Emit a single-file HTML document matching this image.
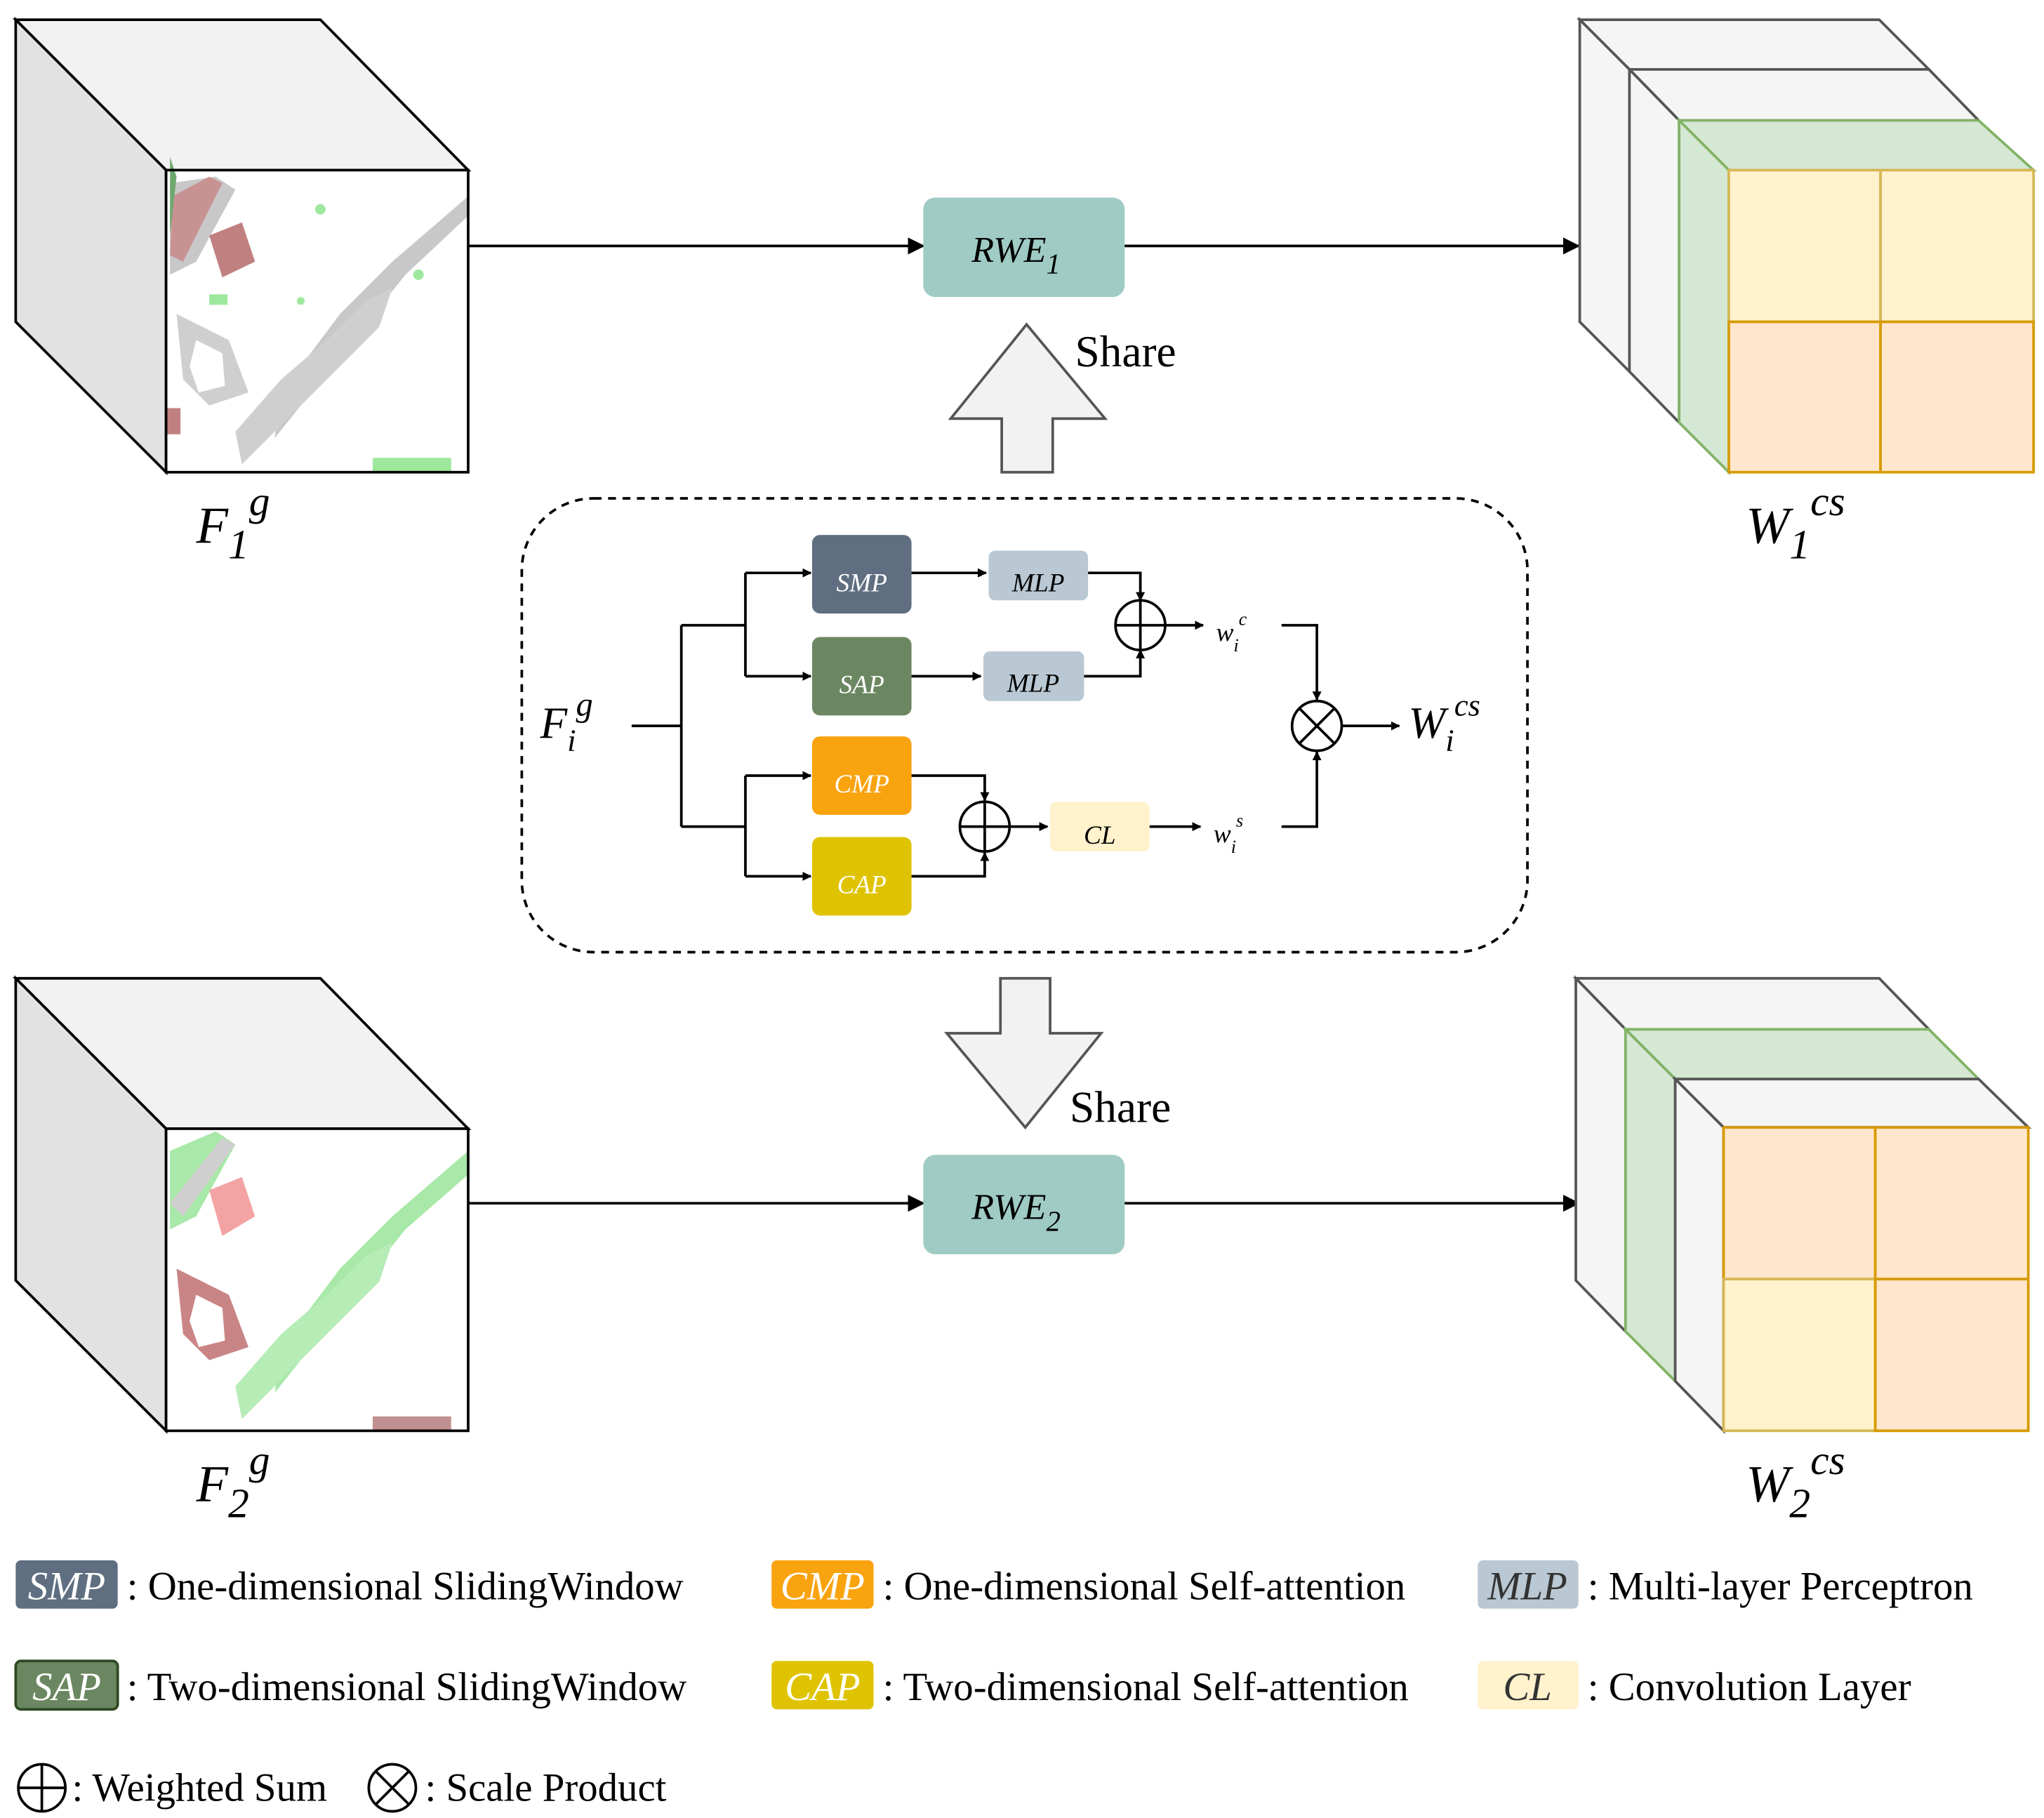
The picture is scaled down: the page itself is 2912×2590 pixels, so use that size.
<!DOCTYPE html>
<html><head><meta charset="utf-8"><style>
html,body{margin:0;padding:0;background:#fff}
svg{display:block}
text{font-family:"Liberation Serif",serif}
</style></head><body>
<svg width="2912" height="2590" viewBox="0 0 1563 1390" xmlns="http://www.w3.org/2000/svg">
<defs>
<marker id="ar" viewBox="0 0 10 10" refX="9" refY="5" markerWidth="7" markerHeight="7" orient="auto-start-reverse" markerUnits="userSpaceOnUse"><path d="M0,0 L10,5 L0,10 z" fill="#000"/></marker>
<marker id="ab" viewBox="0 0 10 10" refX="9" refY="5" markerWidth="13" markerHeight="13" orient="auto" markerUnits="userSpaceOnUse"><path d="M0,0 L10,5 L0,10 z" fill="#000"/></marker>
</defs>
<rect width="1563" height="1390" fill="#fff"/>

<!-- Cube 1 -->
<polygon points="12,15 245,15 358,130 127,130" fill="#f2f2f2" stroke="#000" stroke-width="2"/>
<polygon points="12,15 127,130 127,361 12,246" fill="#e2e2e2" stroke="#000" stroke-width="2"/>
<rect x="127" y="130" width="231" height="231" fill="#fff"/>
<g>
<polygon points="130,140 165,135 180,145 150,200 130,210" fill="#c8c8c8"/>
<polygon points="132,150 160,135 170,140 140,200 130,195" fill="#c98585" opacity="0.8"/>
<polygon points="160,180 185,170 195,200 170,212" fill="#c08080"/>
<polygon points="215,300 260,240 300,200 358,150 358,165 310,210 270,260 230,310 210,335" fill="#c8c8c8"/>
<polygon points="180,330 215,290 250,260 280,230 300,220 290,250 250,290 210,330 185,355" fill="#cfcfcf"/>
<polygon points="135,240 175,260 190,300 160,310 140,290" fill="#cfcfcf"/>
<polygon points="150,260 170,270 172,295 152,300 145,280" fill="#fff"/>
<rect x="285" y="350" width="60" height="11" fill="#9de89d"/>
<polygon points="130,120 135,135 130,180" fill="#6fa86f"/>
<rect x="128" y="312" width="10" height="20" fill="#c08080"/>
<circle cx="245" cy="160" r="4" fill="#9de89d"/><circle cx="320" cy="210" r="4" fill="#9de89d"/><circle cx="230" cy="230" r="3" fill="#9de89d"/>
<rect x="160" y="225" width="14" height="8" fill="#9de89d"/>
</g>
<rect x="127" y="130" width="231" height="231" fill="none" stroke="#000" stroke-width="2"/>
<text x="150" y="415" font-size="40" font-style="italic">F<tspan font-size="32" dy="12">1</tspan><tspan font-size="32" dy="-33">g</tspan></text>

<!-- Cube 2 -->
<polygon points="12,748 245,748 358,863 127,863" fill="#f2f2f2" stroke="#000" stroke-width="2"/>
<polygon points="12,748 127,863 127,1094 12,979" fill="#e2e2e2" stroke="#000" stroke-width="2"/>
<rect x="127" y="863" width="231" height="231" fill="#fff"/>
<g>
<polygon points="130,880 165,865 180,875 150,930 130,940" fill="#a8e8a8"/>
<polygon points="160,910 185,900 195,930 170,945" fill="#f3a3a3"/>
<polygon points="215,1030 260,970 300,930 358,880 358,898 310,940 270,990 230,1040 210,1065" fill="#a8e8a8"/>
<polygon points="180,1060 215,1020 250,990 280,960 300,950 290,980 250,1020 210,1060 185,1085" fill="#b6ecb6"/>
<polygon points="135,970 175,990 190,1030 160,1040 140,1020" fill="#c98585"/>
<polygon points="150,990 170,1000 172,1025 152,1030 145,1010" fill="#fff"/>
<rect x="285" y="1083" width="60" height="11" fill="#c09090"/>
<polygon points="130,920 170,870 180,875 140,930" fill="#cfcfcf"/>
</g>
<rect x="127" y="863" width="231" height="231" fill="none" stroke="#000" stroke-width="2"/>
<text x="150" y="1148" font-size="40" font-style="italic">F<tspan font-size="32" dy="12">2</tspan><tspan font-size="32" dy="-33">g</tspan></text>

<!-- Top flow -->
<line x1="358" y1="188" x2="706" y2="188" stroke="#000" stroke-width="2" marker-end="url(#ab)"/>
<rect x="706" y="151" width="154" height="76" rx="9" fill="#9fcbc4"/>
<text x="743" y="200" font-size="28" font-style="italic">RWE<tspan font-size="22" dy="9">1</tspan></text>
<line x1="860" y1="188" x2="1207" y2="188" stroke="#000" stroke-width="2" marker-end="url(#ab)"/>
<polygon points="785,248 845,320 805,320 805,361 766,361 766,320 727,320" fill="#f2f2f2" stroke="#555" stroke-width="2"/>
<text x="822" y="280" font-size="34">Share</text>

<!-- W1 cube -->
<polygon points="1208,15 1437,15 1475,53 1246,53" fill="#f5f5f5" stroke="#555" stroke-width="2"/>
<polygon points="1208,15 1246,53 1246,284 1208,246" fill="#f5f5f5" stroke="#555" stroke-width="2"/>
<polygon points="1246,53 1475,53 1513,92 1284,92" fill="#f5f5f5" stroke="#555" stroke-width="2"/>
<polygon points="1246,53 1284,92 1284,323 1246,284" fill="#f5f5f5" stroke="#555" stroke-width="2"/>
<polygon points="1284,92 1513,92 1555,130 1322,130" fill="#d5e8d4" stroke="#82b366" stroke-width="2"/>
<polygon points="1284,92 1322,130 1322,361 1284,323" fill="#d5e8d4" stroke="#82b366" stroke-width="2"/>
<rect x="1322" y="130" width="116" height="116" fill="#fff2cc" stroke="#d6b656" stroke-width="2"/>
<rect x="1438" y="130" width="117" height="116" fill="#fff2cc" stroke="#d6b656" stroke-width="2"/>
<rect x="1322" y="246" width="116" height="115" fill="#ffe6cc" stroke="#d79b00" stroke-width="2"/>
<rect x="1438" y="246" width="117" height="115" fill="#ffe6cc" stroke="#d79b00" stroke-width="2"/>
<text x="1335" y="415" font-size="40" font-style="italic">W<tspan font-size="32" dy="12">1</tspan><tspan font-size="32" dy="-33">cs</tspan></text>

<!-- Dashed box -->
<rect x="399" y="381" width="769" height="347" rx="55" fill="none" stroke="#000" stroke-width="2" stroke-dasharray="6,5"/>

<!-- Down arrow -->
<polygon points="765,748 803,748 803,790 842,790 784,862 724,790 765,790" fill="#f2f2f2" stroke="#555" stroke-width="2"/>
<text x="818" y="858" font-size="34">Share</text>

<!-- Bottom flow -->
<line x1="358" y1="920" x2="706" y2="920" stroke="#000" stroke-width="2" marker-end="url(#ab)"/>
<rect x="706" y="883" width="154" height="76" rx="9" fill="#9fcbc4"/>
<text x="743" y="932" font-size="28" font-style="italic">RWE<tspan font-size="22" dy="9">2</tspan></text>
<line x1="860" y1="920" x2="1207" y2="920" stroke="#000" stroke-width="2" marker-end="url(#ab)"/>

<!-- W2 cube -->
<polygon points="1205,748 1437,748 1475,787 1243,787" fill="#f5f5f5" stroke="#555" stroke-width="2"/>
<polygon points="1205,748 1243,787 1243,1018 1205,979" fill="#f5f5f5" stroke="#555" stroke-width="2"/>
<polygon points="1243,787 1475,787 1513,825 1281,825" fill="#d5e8d4" stroke="#82b366" stroke-width="2"/>
<polygon points="1243,787 1281,825 1281,1056 1243,1018" fill="#d5e8d4" stroke="#82b366" stroke-width="2"/>
<polygon points="1281,825 1513,825 1551,862 1318,862" fill="#f5f5f5" stroke="#555" stroke-width="2"/>
<polygon points="1281,825 1318,862 1318,1094 1281,1056" fill="#f5f5f5" stroke="#555" stroke-width="2"/>
<rect x="1318" y="862" width="116" height="116" fill="#ffe6cc" stroke="#d79b00" stroke-width="2"/>
<rect x="1434" y="862" width="117" height="116" fill="#ffe6cc" stroke="#d79b00" stroke-width="2"/>
<rect x="1318" y="978" width="116" height="116" fill="#fff2cc" stroke="#d6b656" stroke-width="2"/>
<rect x="1434" y="978" width="117" height="116" fill="#ffe6cc" stroke="#d79b00" stroke-width="2"/>
<text x="1335" y="1148" font-size="40" font-style="italic">W<tspan font-size="32" dy="12">2</tspan><tspan font-size="32" dy="-33">cs</tspan></text>

<!-- Inner module -->
<g stroke="#000" stroke-width="2" fill="none">
<text x="413" y="564" font-size="34" font-style="italic" fill="#000" stroke="none">F<tspan font-size="24" dy="10">i</tspan><tspan font-size="26" dy="-27">g</tspan></text>
<path d="M483,555 H521 M521,478 V632 M521,478 H570 M570,438 V517 M521,632 H570 M570,593 V670"/>
<line x1="570" y1="438" x2="620" y2="438" marker-end="url(#ar)"/>
<line x1="570" y1="517" x2="620" y2="517" marker-end="url(#ar)"/>
<line x1="570" y1="593" x2="620" y2="593" marker-end="url(#ar)"/>
<line x1="570" y1="670" x2="620" y2="670" marker-end="url(#ar)"/>
<line x1="697" y1="438" x2="754" y2="438" marker-end="url(#ar)"/>
<line x1="697" y1="517" x2="750" y2="517" marker-end="url(#ar)"/>
<path d="M832,438 H872 V459" marker-end="url(#ar)"/>
<path d="M829,517 H872 V497" marker-end="url(#ar)"/>
<circle cx="872" cy="478" r="19"/><path d="M853,478 H891 M872,459 V497"/>
<line x1="891" y1="478" x2="920" y2="478" marker-end="url(#ar)"/>
<path d="M980,478 H1007 V535" marker-end="url(#ar)"/>
<circle cx="1007" cy="555" r="19"/><path d="M994,542 L1020,568 M1020,542 L994,568"/>
<line x1="1026" y1="555" x2="1070" y2="555" marker-end="url(#ar)"/>
<path d="M697,593 H753 V612" marker-end="url(#ar)"/>
<path d="M697,670 H753 V652" marker-end="url(#ar)"/>
<circle cx="753" cy="632" r="19"/><path d="M734,632 H772 M753,613 V651"/>
<line x1="772" y1="632" x2="801" y2="632" marker-end="url(#ar)"/>
<line x1="879" y1="632" x2="918" y2="632" marker-end="url(#ar)"/>
<path d="M980,632 H1007 V575" marker-end="url(#ar)"/>
</g>
<rect x="621" y="409" width="76" height="60" rx="6" fill="#5f6e80"/>
<text x="659" y="452" font-size="20" font-style="italic" fill="#fff" text-anchor="middle">SMP</text>
<rect x="621" y="487" width="76" height="60" rx="6" fill="#6b8761"/>
<text x="659" y="530" font-size="20" font-style="italic" fill="#fff" text-anchor="middle">SAP</text>
<rect x="621" y="563" width="76" height="60" rx="6" fill="#f9a30f"/>
<text x="659" y="606" font-size="20" font-style="italic" fill="#fff" text-anchor="middle">CMP</text>
<rect x="621" y="640" width="76" height="60" rx="6" fill="#dfc300"/>
<text x="659" y="683" font-size="20" font-style="italic" fill="#fff" text-anchor="middle">CAP</text>
<rect x="756" y="421" width="76" height="38" rx="5" fill="#b9c8d3"/>
<text x="794" y="452" font-size="20" font-style="italic" text-anchor="middle">MLP</text>
<rect x="752" y="498" width="77" height="38" rx="5" fill="#b9c8d3"/>
<text x="790" y="529" font-size="20" font-style="italic" text-anchor="middle">MLP</text>
<rect x="803" y="613" width="76" height="38" rx="5" fill="#fff2cc"/>
<text x="841" y="645" font-size="20" font-style="italic" text-anchor="middle">CL</text>
<text x="930" y="490" font-size="20" font-style="italic">w<tspan font-size="14" dy="8">i</tspan><tspan font-size="14" dy="-20">c</tspan></text>
<text x="928" y="644" font-size="20" font-style="italic">w<tspan font-size="14" dy="8">i</tspan><tspan font-size="14" dy="-20">s</tspan></text>
<text x="1077" y="564" font-size="34" font-style="italic">W<tspan font-size="24" dy="10">i</tspan><tspan font-size="24" dy="-27">cs</tspan></text>

<!-- Legend -->
<g font-size="30.5">
<rect x="12" y="1193" width="78" height="37" rx="4" fill="#5f6e80"/>
<text x="51" y="1223" fill="#fff" font-style="italic" text-anchor="middle">SMP</text>
<text x="97" y="1223">: One-dimensional SlidingWindow</text>
<rect x="12" y="1270" width="78" height="37" rx="4" fill="#6b8761" stroke="#2e4a22" stroke-width="2"/>
<text x="51" y="1300" fill="#fff" font-style="italic" text-anchor="middle">SAP</text>
<text x="97" y="1300">: Two-dimensional SlidingWindow</text>
<rect x="590" y="1193" width="78" height="37" rx="4" fill="#f9a30f"/>
<text x="629" y="1223" fill="#fff" font-style="italic" text-anchor="middle">CMP</text>
<text x="675" y="1223">: One-dimensional Self-attention</text>
<rect x="590" y="1270" width="78" height="37" rx="4" fill="#dfc300"/>
<text x="629" y="1300" fill="#fff" font-style="italic" text-anchor="middle">CAP</text>
<text x="675" y="1300">: Two-dimensional Self-attention</text>
<rect x="1130" y="1193" width="77" height="37" rx="4" fill="#b9c8d3"/>
<text x="1168" y="1223" font-style="italic" text-anchor="middle" fill="#333">MLP</text>
<text x="1214" y="1223">: Multi-layer Perceptron</text>
<rect x="1130" y="1270" width="77" height="37" rx="4" fill="#fff2cc"/>
<text x="1168" y="1300" font-style="italic" text-anchor="middle" fill="#333">CL</text>
<text x="1214" y="1300">: Convolution Layer</text>
<circle cx="32" cy="1367" r="18" fill="none" stroke="#000" stroke-width="2"/>
<path d="M14,1367 H50 M32,1349 V1385" stroke="#000" stroke-width="2"/>
<text x="55" y="1377">: Weighted Sum</text>
<circle cx="300" cy="1367" r="18" fill="none" stroke="#000" stroke-width="2"/>
<path d="M287,1354 L313,1380 M313,1354 L287,1380" stroke="#000" stroke-width="2"/>
<text x="325" y="1377">: Scale Product</text>
</g>
</svg>
</body></html>
